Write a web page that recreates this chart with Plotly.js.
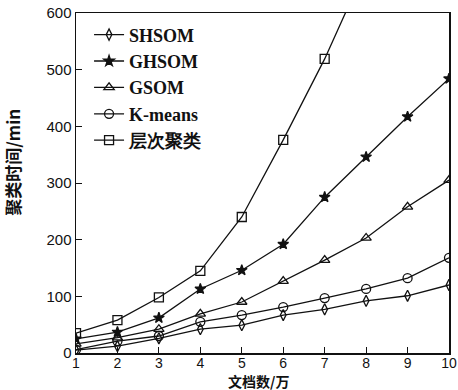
<!DOCTYPE html>
<html>
<head>
<meta charset="utf-8">
<script src="https://cdn.plot.ly/plotly-3.0.1.min.js"></script>
<style>html,body{margin:0;padding:0;background:#fff;}#chart{width:458px;height:390px;}</style>
</head>
<body>
<div id="chart"></div>
<script>
const docs = [1, 2, 3, 4, 5, 6, 7, 8, 9, 10];
const seriesNames = ["SHSOM", "GHSOM", "GSOM", "K-means", "层次聚类"];
const shsom = [5, 12, 26, 42, 49, 67, 77, 92, 101, 120];
const ghsom = [25, 37, 62, 113, 146, 192, 275, 346, 417, 484];
const gsom = [16, 27, 42, 69, 90, 127, 164, 203, 258, 305];
const kmeans = [6, 21, 30, 55, 67, 81, 97, 113, 132, 168];
const hier = [35, 58, 98, 145, 240, 376, 519, 681];
const xTicks = [1, 2, 3, 4, 5, 6, 7, 8, 9, 10];
const yTicks = [0, 100, 200, 300, 400, 500, 600];
const xTitle = "文档数/万";
const yTitle = "聚类时间/min";

const symbols = ["diamond-tall-open", "star", "triangle-up-open", "circle-open", "square-open"];
const sizes = [8, 8, 9, 9, 9];
const values = [shsom, ghsom, gsom, kmeans, hier];

const traces = values.map((v, i) => ({
  x: docs.slice(0, v.length),
  y: v,
  name: seriesNames[i],
  type: "scatter",
  mode: "lines+markers",
  line: {color: "#111", width: 1.3},
  marker: {symbol: symbols[i], size: sizes[i], color: "#111", line: {color: "#111", width: 1.3}}
}));

const layout = {
  width: 458, height: 390,
  margin: {l: 76, r: 9, t: 13, b: 37},
  paper_bgcolor: "#fff", plot_bgcolor: "#fff",
  showlegend: true,
  legend: {
    x: 0.035, y: 0.99, xanchor: "left", yanchor: "top",
    bgcolor: "rgba(0,0,0,0)",
    font: {family: "Liberation Serif, serif", size: 18, color: "#111", weight: "bold"},
    tracegroupgap: 0, itemwidth: 30
  },
  xaxis: {
    range: [1, 10], tickvals: xTicks, ticks: "inside", ticklen: 6, tickcolor: "#111",
    showline: true, linecolor: "#111", linewidth: 1.5, mirror: true, showgrid: false, zeroline: false,
    ticklabelstandoff: -3,
    tickfont: {family: "Liberation Sans, Arial", size: 14, color: "#111"}
  },
  yaxis: {
    range: [0, 600], tickvals: yTicks, ticks: "inside", ticklen: 6, tickcolor: "#111",
    showline: true, linecolor: "#111", linewidth: 1.5, mirror: true, showgrid: false, zeroline: false,
    tickfont: {family: "Liberation Sans, Arial", size: 15, color: "#111"}
  },
  annotations: [
    {text: xTitle, xref: "paper", yref: "paper", x: 0.49, y: -0.083, xanchor: "center", yanchor: "middle",
     showarrow: false, font: {family: "Noto Sans CJK SC", size: 14, color: "#111", weight: "bold"}},
    {text: yTitle, xref: "paper", yref: "paper", x: -0.171, y: 0.56, xanchor: "center", yanchor: "middle",
     textangle: -90, showarrow: false, font: {family: "Noto Sans CJK SC", size: 17, color: "#111", weight: "bold"}}
  ]
};

Plotly.newPlot("chart", traces, layout, {displayModeBar: false, staticPlot: true});
</script>
</body>
</html>
